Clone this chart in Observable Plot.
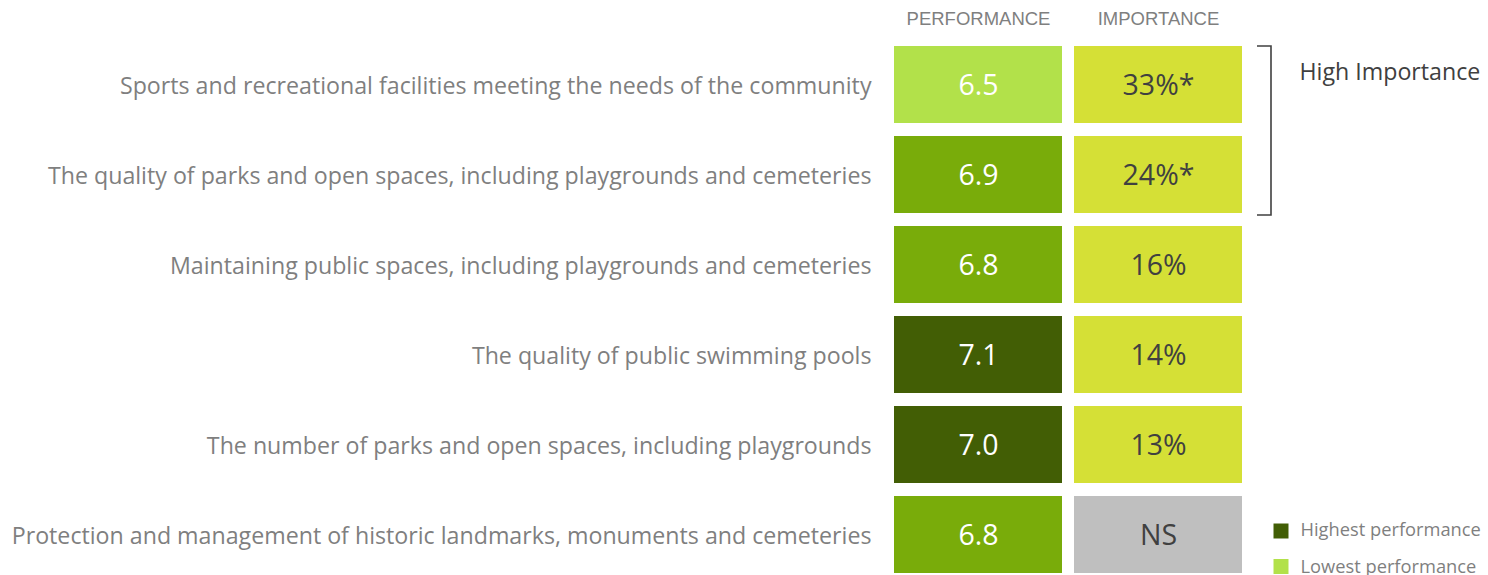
<!DOCTYPE html>
<html>
<head>
<meta charset="utf-8">
<script src="https://cdn.jsdelivr.net/npm/d3@7"></script>
<script src="https://cdn.jsdelivr.net/npm/@observablehq/plot@0.6"></script>
<style>
  html, body { margin: 0; padding: 0; background: #fff; }
  #chart { width: 1488px; height: 575px; overflow: hidden; }
</style>
</head>
<body>
<div id="chart"></div>
<script>
const services = [
  "Sports and recreational facilities meeting the needs of the community",
  "The quality of parks and open spaces, including playgrounds and cemeteries",
  "Maintaining public spaces, including playgrounds and cemeteries",
  "The quality of public swimming pools",
  "The number of parks and open spaces, including playgrounds",
  "Protection and management of historic landmarks, monuments and cemeteries"
];
const performance = [6.5, 6.9, 6.8, 7.1, 7.0, 6.8];
const importance = ["33%*", "24%*", "16%", "14%", "13%", "NS"];
const columns = ["PERFORMANCE", "IMPORTANCE"];
const highImportanceRows = [services[0], services[1]];
const legendLabels = ["Highest performance", "Lowest performance"];

const C = {
  high: "#425e05", mid: "#79ac0a", low: "#b2e14a",
  imp: "#d5e036", ns: "#bfbfbf"
};
function perfColor(v) { return v >= 7.0 ? C.high : v <= 6.5 ? C.low : C.mid; }

const cells = [];
services.forEach((s, i) => {
  cells.push({service: s, col: columns[0], label: performance[i].toFixed(1),
              fill: perfColor(performance[i]), ink: "#ffffff"});
  cells.push({service: s, col: columns[1], label: importance[i],
              fill: importance[i] === "NS" ? C.ns : C.imp, ink: "#404040"});
});

const bracket = (index, scales, values, dims) => {
  const y = scales.y;
  const bw = typeof y.bandwidth === "function" ? y.bandwidth() : y.bandwidth;
  const y0 = y(highImportanceRows[0]);
  const y1 = y(highImportanceRows[1]) + bw + 2;
  const xr = dims.width - dims.marginRight + 28;
  const xl = xr - 14;
  const g = d3.create("svg:path")
    .attr("d", `M${xl},${y0}H${xr}V${y1}H${xl}`)
    .attr("fill", "none").attr("stroke", "#404040").attr("stroke-width", 1.6);
  return g.node();
};

const chart = Plot.plot({
  width: 1488,
  height: 575,
  marginLeft: 893,
  marginRight: 245,
  marginTop: 44,
  marginBottom: 0,
  style: {fontFamily: "'Open Sans', sans-serif", background: "#fff"},
  x: {domain: columns, paddingInner: 0.066, paddingOuter: 0, axis: null},
  y: {domain: services, paddingInner: 0.139, paddingOuter: 0, axis: null},
  color: {type: "identity"},
  marks: [
    Plot.axisX({anchor: "top", tickSize: 0, tickPadding: 20, fontSize: 18.5,
      fontFamily: "'Liberation Sans', Arial, sans-serif", fill: "#7f7f7f", label: null}),
    Plot.axisY({anchor: "left", tickSize: 0, tickPadding: 22, fontSize: 23.2, dy: 2,
      fill: "#7f7f7f", label: null}),
    Plot.cell(cells, {x: "col", y: "service", fill: "fill", inset: 0}),
    Plot.text(cells, {x: "col", y: "service", text: "label", fill: "ink", fontSize: 28.5, dy: 1}),
    bracket,
    Plot.text(["High Importance"], {frameAnchor: "top-right", dx: 56, dy: 19,
      textAnchor: "start", fontSize: 23.2, fill: "#404040"}),
    Plot.dot([legendLabels[0]], {frameAnchor: "bottom-right", dx: 37.5, dy: -44.5,
      symbol: "square", r: 8.46, fill: C.high}),
    Plot.dot([legendLabels[1]], {frameAnchor: "bottom-right", dx: 37.5, dy: -9,
      symbol: "square", r: 8.46, fill: C.low}),
    Plot.text([legendLabels[0]], {frameAnchor: "bottom-right", dx: 57, dy: -39.5,
      text: d => d, textAnchor: "start", fontSize: 18.3, fill: "#7f7f7f"}),
    Plot.text([legendLabels[1]], {frameAnchor: "bottom-right", dx: 57, dy: -3,
      text: d => d, textAnchor: "start", fontSize: 18.3, fill: "#7f7f7f"})
  ]
});
document.getElementById("chart").appendChild(chart);
</script>
</body>
</html>
